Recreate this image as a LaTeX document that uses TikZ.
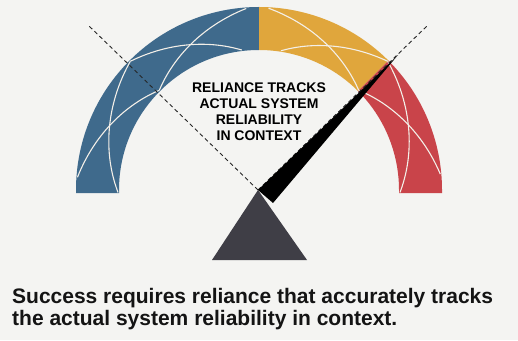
\documentclass[tikz,border=0pt]{standalone}
\usepackage{fontspec}
\setmainfont{Liberation Sans}
\definecolor{bgc}{HTML}{F4F4F2}
\definecolor{gblue}{HTML}{3F6A8C}
\definecolor{gyellow}{HTML}{E0A63C}
\definecolor{gred}{HTML}{C9444A}
\definecolor{gtri}{HTML}{3F3E46}
\definecolor{glat}{HTML}{F3EFE8}
\newcommand\lattcurve[4]{%
  \draw[latt] plot[domain=0:1,samples=40,variable=\t]
    ({259+(#2+(#4-#2)*\t)*cos(#1+(#3-#1)*\t)},{150+(#2+(#4-#2)*\t)*sin(#1+(#3-#1)*\t)});}
\tikzset{
  latt/.style={draw=glat,line width=1.1pt},
  guide/.style={draw=black!85,line width=0.9pt,dash pattern=on 4pt off 3pt},
  innertxt/.style={font=\bfseries\fontsize{14}{16}\selectfont,anchor=base,inner sep=0pt,text=black},
  captxt/.style={font=\bfseries\fontsize{21}{22}\selectfont,anchor=base west,inner sep=0pt,text=black!92}
}
\begin{document}
\begin{tikzpicture}[x=1pt,y=1pt]
\useasboundingbox (0,0) rectangle (518,340);
\fill[bgc] (0,0) rectangle (518,340);
% gauge band
\coordinate (C) at (259,150);
\fill[gblue] (76,147) -- (76,150) arc[start angle=180,end angle=90,radius=183]
  -- (259,290) arc[start angle=90,end angle=180,radius=140] -- (119,147) -- cycle;
\fill[gyellow] (259,333) arc[start angle=90,end angle=45,radius=183]
  -- ({259+140*cos(45)},{150+140*sin(45)}) arc[start angle=45,end angle=90,radius=140] -- cycle;
\fill[gred] ({259+183*cos(45)},{150+183*sin(45)}) arc[start angle=45,end angle=0,radius=183]
  -- (442,147) -- (399,147) -- (399,150) arc[start angle=0,end angle=45,radius=140] -- cycle;
% lattice
\lattcurve{176}{182}{135}{141}
\lattcurve{181}{141}{135}{182}
\lattcurve{135}{182}{97}{141}
\lattcurve{135}{141}{94}{182}
\lattcurve{87}{182}{45}{141}
\lattcurve{81}{141}{45}{182}
\lattcurve{45}{182}{-1}{141}
\lattcurve{45}{141}{5}{182}
% guides
\coordinate (apex) at (258,150);
\coordinate (gl) at (88,315);
\coordinate (gr) at (428,315);
\draw[guide] (apex) -- (gl);
\draw[guide] (apex) -- (gr);
% base triangle
\fill[gtri] (apex) -- (307,80) -- (212,80) -- cycle;
% needle
\coordinate (tip) at (398,285);
\coordinate (nb) at (273,137);
\fill[black] (apex) -- (tip) -- (nb) -- cycle;
% texts
\node[innertxt] (t1) at (259,247) {RELIANCE TRACKS};
\node[innertxt] (t2) at (259,231) {ACTUAL SYSTEM};
\node[innertxt] (t3) at (259,215) {RELIABILITY};
\node[innertxt] (t4) at (259,199) {IN CONTEXT};
\node[captxt] (c1) at (12,37) {Success requires reliance that accurately tracks};
\node[captxt] (c2) at (12,15) {the actual system reliability in context.};
\end{tikzpicture}
\end{document}
